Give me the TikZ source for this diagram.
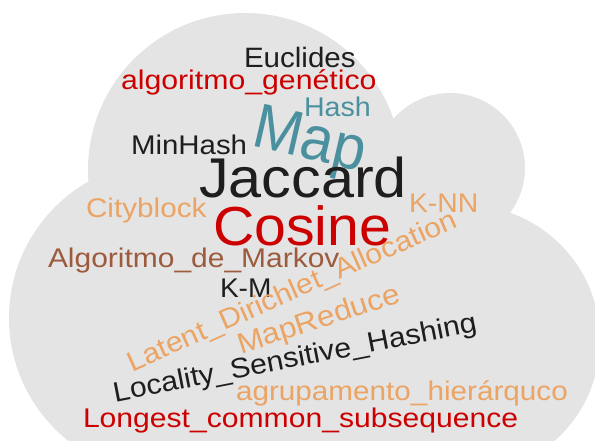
\documentclass[tikz,border=0pt]{standalone}
\usepackage{fontspec}
\setmainfont{Liberation Sans}
\definecolor{cloudgrey}{HTML}{E4E4E4}
\definecolor{wred}{HTML}{CC0000}
\definecolor{worange}{HTML}{EBA464}
\definecolor{wbrown}{HTML}{9C5B3D}
\definecolor{wteal}{HTML}{4A909E}
\definecolor{wblack}{HTML}{1E1E1E}
% word: font size, horizontal stretch, text
\newcommand{\wcword}[3]{\scalebox{#2}[1]{\fontsize{#1}{#1}\selectfont #3}}
\tikzset{
  word/.style={inner sep=0pt, outer sep=0pt, anchor=base west},
}
\begin{document}
\begin{tikzpicture}[x=1pt,y=-1pt]
\useasboundingbox (0,0) rectangle (595,441);
% cloud made of overlapping discs
\fill[cloudgrey] (245,170) circle (157)
                 (450,168) circle (75)
                 (465,340) circle (135)
                 (166,318) circle (157)
                 (166,318) -- (245,170) -- (450,168) -- (465,340) -- (465,441) -- (166,441) -- cycle;
% words
\node[word, text=wblack]  (euclides) at (244,68)  {\wcword{28}{1.055}{Euclides}};
\node[word, text=wred]    (genetico) at (121,90)  {\wcword{27}{1.12}{algoritmo\_genético}};
\node[word, text=wteal]   (hash)     at (304,117) {\wcword{27}{1.06}{Hash}};
\node[word, text=wteal, rotate=-13] (map) at (250,146) {\wcword{63}{0.93}{Map}};
\node[word, text=wblack]  (minhash)  at (131,155) {\wcword{27}{1.09}{MinHash}};
\node[word, text=wblack]  (jaccard)  at (199,198) {\wcword{56}{1.06}{Jaccard}};
\node[word, text=worange] (city)     at (86,218)  {\wcword{27}{1.10}{Cityblock}};
\node[word, text=worange] (knn)      at (409,213) {\wcword{27}{1.05}{K-NN}};
\node[word, text=wred]    (cosine)   at (213,245) {\wcword{55}{1.04}{Cosine}};
\node[word, text=wbrown]  (markov)   at (48,268)  {\wcword{27}{1.11}{Algoritmo\_de\_Markov}};
\node[word, text=wblack]  (km)       at (220,297) {\wcword{27}{1.04}{K-M}};
\node[word, text=worange, rotate=24] (lda) at (132,372) {\wcword{28}{1.08}{Latent\_Dirichlet\_Allocation}};
\node[word, text=worange, rotate=18] (mapreduce) at (241,354) {\wcword{29}{1.08}{MapReduce}};
\node[word, text=wblack, rotate=11] (lsh) at (115,402) {\wcword{28}{1.08}{Locality\_Sensitive\_Hashing}};
\node[word, text=worange] (agrup)    at (236,400) {\wcword{27}{1.10}{agrupamento\_hierárquco}};
\node[word, text=wred]    (lcs)      at (83,427)  {\wcword{27}{1.115}{Longest\_common\_subsequence}};
\end{tikzpicture}
\end{document}
